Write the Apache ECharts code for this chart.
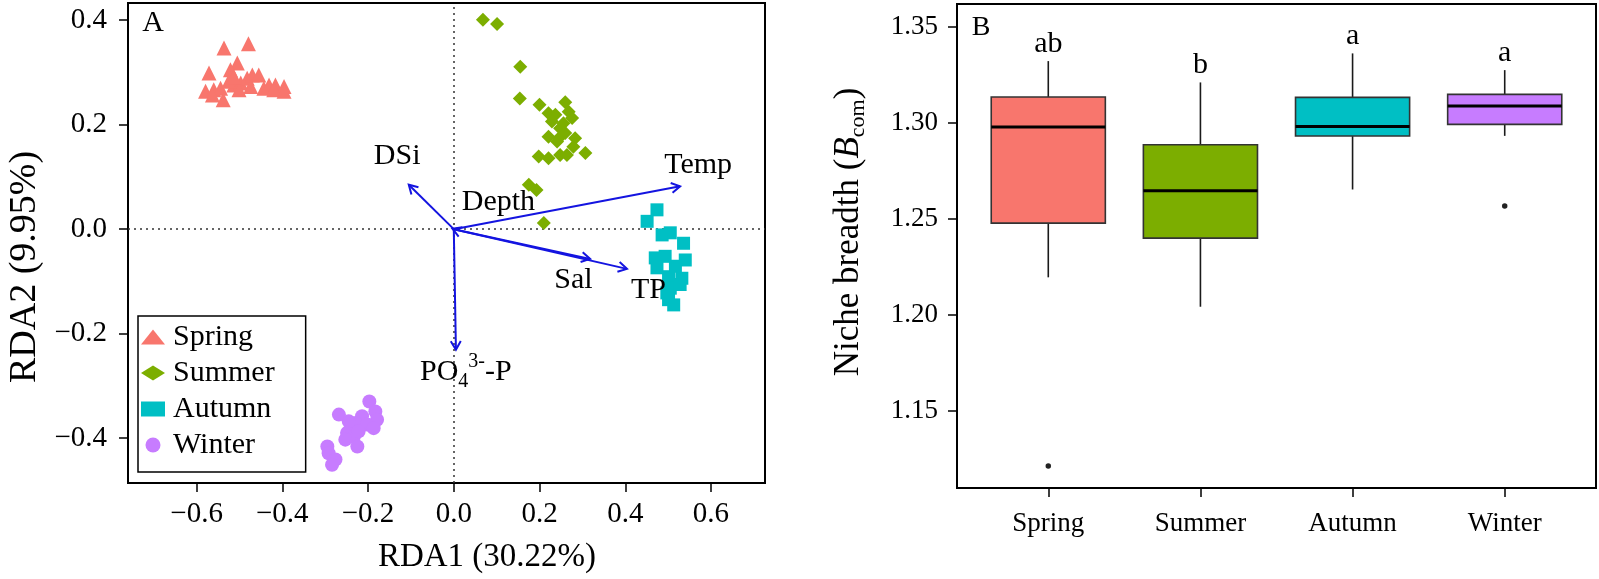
<!DOCTYPE html>
<html>
<head>
<meta charset="utf-8">
<script src="https://cdn.jsdelivr.net/npm/echarts@6/dist/echarts.min.js"></script>
<style>
html, body { margin: 0; padding: 0; background: #fff; }
#chart { width: 1599px; height: 579px; }
</style>
</head>
<body>
<div id="chart"></div>
<script>
const FONT = '"Liberation Serif", "Times New Roman", serif';

// ---- panel A: RDA site scores (RDA1, RDA2) per season ----
const springPts = [
  [-0.536, 0.347], [-0.479, 0.355], [-0.571, 0.299], [-0.505, 0.318], [-0.521, 0.305],
  [-0.579, 0.264], [-0.560, 0.267], [-0.544, 0.270], [-0.538, 0.248], [-0.513, 0.276],
  [-0.497, 0.280], [-0.482, 0.289], [-0.470, 0.295], [-0.455, 0.295], [-0.474, 0.273],
  [-0.443, 0.270], [-0.431, 0.276], [-0.416, 0.276], [-0.396, 0.273], [-0.420, 0.267],
  [-0.396, 0.264], [-0.501, 0.267], [-0.525, 0.283], [-0.513, 0.292], [-0.563, 0.257]
];
const summerPts = [
  [0.068, 0.401], [0.101, 0.393], [0.155, 0.311], [0.154, 0.250], [0.200, 0.238],
  [0.221, 0.222], [0.237, 0.219], [0.260, 0.243], [0.268, 0.225], [0.276, 0.213],
  [0.229, 0.206], [0.248, 0.193], [0.260, 0.184], [0.221, 0.177], [0.245, 0.174],
  [0.283, 0.174], [0.279, 0.158], [0.307, 0.146], [0.198, 0.139], [0.221, 0.136],
  [0.248, 0.142], [0.264, 0.142], [0.175, 0.085], [0.193, 0.075], [0.210, 0.012],
  [0.241, 0.168], [0.256, 0.203]
];
const autumnPts = [
  [0.474, 0.037], [0.451, 0.015], [0.486, -0.011], [0.505, -0.007], [0.536, -0.027],
  [0.470, -0.055], [0.493, -0.052], [0.540, -0.059], [0.474, -0.074], [0.517, -0.071],
  [0.532, -0.094], [0.501, -0.091], [0.505, -0.113], [0.528, -0.106], [0.501, -0.135],
  [0.513, -0.145], [0.497, -0.122]
];
const winterPts = [
  [-0.268, -0.355], [-0.197, -0.330], [-0.183, -0.349], [-0.179, -0.365], [-0.214, -0.358],
  [-0.229, -0.371], [-0.245, -0.368], [-0.202, -0.374], [-0.249, -0.390], [-0.233, -0.397],
  [-0.225, -0.416], [-0.253, -0.403], [-0.295, -0.416], [-0.292, -0.429], [-0.276, -0.441],
  [-0.284, -0.451], [-0.187, -0.381], [-0.222, -0.387]
];

// environmental vectors and where their names sit (data units)
const envNames = ['DSi', 'Temp', 'Depth', 'Sal', 'TP', 'PO{sub|4}{sup|3-}-P'];
const envX = [-0.105, 0.528, -0.003, 0.318, 0.404, 0.005];
const envY = [0.085, 0.082, 0.001, -0.057, -0.076, -0.231];
const envLabelX = [-0.132, 0.570, 0.104, 0.279, 0.454, 0.028];
const envLabelY = [0.139, 0.123, 0.051, -0.097, -0.116, -0.273];

const rdaXTicks = [-0.6, -0.4, -0.2, 0, 0.2, 0.4, 0.6];
const rdaYTicks = [-0.4, -0.2, 0, 0.2, 0.4];

// ---- panel B: niche breadth boxplots ----
const seasons = ['Spring', 'Summer', 'Autumn', 'Winter'];
const whiskerLow = [1.2196, 1.2043, 1.2653, 1.2932];
const q1 = [1.2478, 1.2400, 1.2931, 1.2992];
const median = [1.2978, 1.2646, 1.2981, 1.3087];
const q3 = [1.3134, 1.2886, 1.3132, 1.3148];
const whiskerHigh = [1.3321, 1.3210, 1.3361, 1.3274];
const outliers = [[1, 1.1214], [4, 1.2567]];
const letters = ['ab', 'b', 'a', 'a'];
const nicheTicks = [1.15, 1.20, 1.25, 1.30, 1.35];

const seasonColors = ['#F8766D', '#7CAE00', '#00BFC4', '#C77CFF'];
const seasonSymbols = ['triangle', 'diamond', 'rect', 'circle'];
const seasonSizes = [15, 14, 13, 14];
const seasonPts = [springPts, summerPts, autumnPts, winterPts];

const minus = v => (v < 0 ? '\u2212' : '') + Math.abs(v).toFixed(1);

function renderArrow(params, api) {
  const o = api.coord([0, 0]);
  const t = api.coord([api.value(0), api.value(1)]);
  const lp = api.coord([api.value(2), api.value(3)]);
  const ang = Math.atan2(t[1] - o[1], t[0] - o[0]);
  const h = 10, a = Math.PI / 6;
  const w1 = [t[0] - h * Math.cos(ang - a), t[1] - h * Math.sin(ang - a)];
  const w2 = [t[0] - h * Math.cos(ang + a), t[1] - h * Math.sin(ang + a)];
  const blue = '#1414e0';
  return {
    type: 'group',
    children: [
      { type: 'line', shape: { x1: o[0], y1: o[1], x2: t[0], y2: t[1] }, style: { stroke: blue, lineWidth: 2 } },
      { type: 'polyline', shape: { points: [w1, t, w2] }, style: { stroke: blue, lineWidth: 2, fill: null } },
      {
        type: 'text',
        style: {
          text: envNames[params.dataIndex], x: lp[0], y: lp[1],
          fill: '#000', fontSize: 30, fontFamily: FONT, lineHeight: 40,
          align: 'center', verticalAlign: 'middle',
          rich: {
            sub: { fontSize: 20, fontFamily: FONT, verticalAlign: 'bottom', lineHeight: 20 },
            sup: { fontSize: 20, fontFamily: FONT, verticalAlign: 'top', lineHeight: 28 }
          }
        }
      }
    ]
  };
}

function renderBox(params, api) {
  const x = api.value(0);
  const bw = api.size([1, 0])[0] * 0.75;
  const pLow = api.coord([x, api.value(1)]);
  const pQ1 = api.coord([x, api.value(2)]);
  const pMed = api.coord([x, api.value(3)]);
  const pQ3 = api.coord([x, api.value(4)]);
  const pHigh = api.coord([x, api.value(5)]);
  return {
    type: 'group',
    children: [
      { type: 'line', shape: { x1: pLow[0], y1: pLow[1], x2: pQ1[0], y2: pQ1[1] }, style: { stroke: '#1a1a1a', lineWidth: 1.6 } },
      { type: 'line', shape: { x1: pQ3[0], y1: pQ3[1], x2: pHigh[0], y2: pHigh[1] }, style: { stroke: '#1a1a1a', lineWidth: 1.6 } },
      {
        type: 'rect',
        shape: { x: pQ3[0] - bw / 2, y: pQ3[1], width: bw, height: pQ1[1] - pQ3[1] },
        style: { fill: seasonColors[params.dataIndex], stroke: '#333', lineWidth: 1.6 }
      },
      { type: 'line', shape: { x1: pMed[0] - bw / 2, y1: pMed[1], x2: pMed[0] + bw / 2, y2: pMed[1] }, style: { stroke: '#000', lineWidth: 3 } }
    ]
  };
}

const chart = echarts.init(document.getElementById('chart'), null, { renderer: 'canvas' });

const scatterSeries = seasons.map((s, i) => ({
  name: s,
  type: 'scatter',
  xAxisIndex: 0, yAxisIndex: 0,
  symbol: seasonSymbols[i],
  symbolSize: seasonSizes[i],
  itemStyle: { color: seasonColors[i], opacity: 1 },
  data: seasonPts[i],
  z: 3,
  markLine: i === 0 ? {
    silent: true, symbol: ['none', 'none'], label: { show: false },
    lineStyle: { type: [2, 4], color: '#333', width: 1.5 },
    data: [{ xAxis: 0 }, { yAxis: 0 }],
    z: 1
  } : undefined
}));

chart.setOption({
  animation: false,
  backgroundColor: '#fff',
  textStyle: { fontFamily: FONT },
  grid: [
    { left: 128, top: 3, width: 637, height: 480, show: true, borderColor: '#000', borderWidth: 2, backgroundColor: 'transparent' },
    { left: 957, top: 4, width: 639, height: 484, show: true, borderColor: '#000', borderWidth: 2, backgroundColor: 'transparent' }
  ],
  xAxis: [
    {
      type: 'value', gridIndex: 0, min: -0.76, max: 0.726,
      name: 'RDA1 (30.22%)', nameLocation: 'middle', nameGap: 58,
      nameTextStyle: { fontFamily: FONT, fontSize: 33, color: '#000', padding: [0, 0, 0, 81] },
      axisLine: { onZero: false, lineStyle: { color: '#000', width: 2 } },
      axisTick: { customValues: rdaXTicks, length: 9, lineStyle: { color: '#000', width: 1.5 } },
      axisLabel: { customValues: rdaXTicks, formatter: minus, margin: 17, fontFamily: FONT, fontSize: 29, color: '#000' },
      splitLine: { show: false }
    },
    {
      type: 'value', gridIndex: 1, min: 0.4, max: 4.6,
      axisLine: { onZero: false, lineStyle: { color: '#000', width: 2 } },
      axisTick: { customValues: [1, 2, 3, 4], length: 9, lineStyle: { color: '#000', width: 1.5 } },
      axisLabel: { customValues: [1, 2, 3, 4], formatter: v => seasons[Math.round(v) - 1], margin: 22, fontFamily: FONT, fontSize: 27, color: '#000' },
      splitLine: { show: false }
    }
  ],
  yAxis: [
    {
      type: 'value', gridIndex: 0, min: -0.486, max: 0.433,
      name: 'RDA2 (9.95%)', nameLocation: 'middle', nameGap: 84,
      nameTextStyle: { fontFamily: FONT, fontSize: 38, color: '#000', padding: [0, 48, 0, 0] },
      axisLine: { onZero: false, lineStyle: { color: '#000', width: 2 } },
      axisTick: { customValues: rdaYTicks, length: 9, lineStyle: { color: '#000', width: 1.5 } },
      axisLabel: { customValues: rdaYTicks, formatter: minus, margin: 21, fontFamily: FONT, fontSize: 29, color: '#000' },
      splitLine: { show: false }
    },
    {
      type: 'value', gridIndex: 1, min: 1.110, max: 1.3618,
      name: '{t|Niche breadth (}{it|B}{sub|com}{t|)}', nameLocation: 'middle', nameGap: 88,
      nameTextStyle: {
        fontFamily: FONT, fontSize: 35, color: '#000', padding: [0, 0, 0, 28],
        rich: {
          t: { fontFamily: FONT, fontSize: 35, color: '#000', lineHeight: 40 },
          it: { fontFamily: FONT, fontSize: 35, fontStyle: 'italic', color: '#000', lineHeight: 40 },
          sub: { fontFamily: FONT, fontSize: 22, color: '#000', verticalAlign: 'bottom', lineHeight: 22 }
        }
      },
      axisLine: { onZero: false, lineStyle: { color: '#000', width: 2 } },
      axisTick: { customValues: nicheTicks, length: 9, lineStyle: { color: '#000', width: 1.5 } },
      axisLabel: { customValues: nicheTicks, formatter: v => v.toFixed(2), margin: 19, fontFamily: FONT, fontSize: 27, color: '#000' },
      splitLine: { show: false }
    }
  ],
  legend: {
    orient: 'vertical', left: 138, top: 316,
    data: seasons,
    selectedMode: false,
    itemWidth: 24, itemHeight: 15, itemGap: 6,
    padding: [6, 31, 12, 3],
    borderColor: '#000', borderWidth: 1.5, borderRadius: 0, backgroundColor: '#fff',
    textStyle: { fontFamily: FONT, fontSize: 30, color: '#000', lineHeight: 30, padding: [0, 0, 0, 3] }
  },
  graphic: [
    { type: 'text', x: 153, y: 23, style: { text: 'A', fontFamily: FONT, fontSize: 30, fill: '#000', align: 'center', verticalAlign: 'middle' } },
    { type: 'text', x: 981, y: 28, style: { text: 'B', fontFamily: FONT, fontSize: 28, fill: '#000', align: 'center', verticalAlign: 'middle' } }
  ],
  series: [
    ...scatterSeries,
    {
      name: 'vectors', type: 'custom', xAxisIndex: 0, yAxisIndex: 0, z: 5,
      renderItem: renderArrow,
      data: envX.map((x, i) => [x, envY[i], envLabelX[i], envLabelY[i]])
    },
    {
      name: 'niche', type: 'custom', xAxisIndex: 1, yAxisIndex: 1, z: 3,
      renderItem: renderBox,
      encode: { x: 0, y: [1, 2, 3, 4, 5] },
      data: seasons.map((s, i) => [i + 1, whiskerLow[i], q1[i], median[i], q3[i], whiskerHigh[i]])
    },
    {
      name: 'outliers', type: 'scatter', xAxisIndex: 1, yAxisIndex: 1, z: 4,
      symbol: 'circle', symbolSize: 5.5, itemStyle: { color: '#222', opacity: 1 },
      data: outliers
    },
    {
      name: 'letters', type: 'scatter', xAxisIndex: 1, yAxisIndex: 1, z: 4,
      symbolSize: 0, silent: true, itemStyle: { opacity: 1 },
      label: { show: true, position: 'top', distance: 2, formatter: p => letters[p.dataIndex], fontFamily: FONT, fontSize: 30, color: '#000', opacity: 1 },
      data: seasons.map((s, i) => [i + 1, whiskerHigh[i]])
    }
  ]
});
</script>
</body>
</html>
